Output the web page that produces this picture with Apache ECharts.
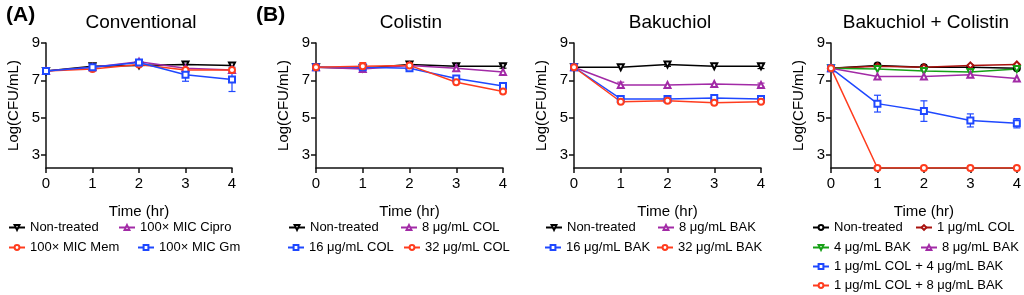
<!DOCTYPE html>
<html>
<head>
<meta charset="utf-8">
<script src="https://cdn.jsdelivr.net/npm/echarts@6/dist/echarts.min.js"></script>
<style>
  html, body { margin: 0; background: #fff; }
  #main { width: 1024px; height: 295px; }
</style>
</head>
<body>
<div id="main"></div>
<script>
var times = [0, 1, 2, 3, 4]
var yTicks = [3, 5, 7, 9]

// (A) Conventional
var convNonTreated = [7.5, 7.75, 7.8, 7.85, 7.8]
var convCipro = [7.5, 7.7, 8.0, 7.65, 7.55]
var convMem = [7.5, 7.6, 7.85, 7.55, 7.55]
var convGm = [7.5, 7.7, 7.95, 7.3, 7.05]
var convGmErr = [0, 0, 0.1, 0.35, 0.65]

// (B) Colistin
var colNonTreated = [7.7, 7.65, 7.85, 7.75, 7.75]
var col8 = [7.7, 7.6, 7.8, 7.65, 7.45]
var col16 = [7.7, 7.7, 7.65, 7.1, 6.7]
var col32 = [7.7, 7.75, 7.8, 6.9, 6.4]
var col32Err = [0, 0.2, 0, 0, 0]
var colNonErr = [0, 0, 0, 0, 0.1]

// Bakuchiol
var bakNonTreated = [7.7, 7.7, 7.85, 7.75, 7.75]
var bak8 = [7.7, 6.75, 6.75, 6.8, 6.75]
var bak16 = [7.7, 6.0, 6.0, 6.05, 6.0]
var bak32 = [7.7, 5.85, 5.9, 5.8, 5.85]
var bakNonErr = [0, 0, 0.1, 0, 0.12]
var bak8Err = [0, 0.15, 0, 0, 0.1]

// Bakuchiol + Colistin
var comboNonTreated = [7.65, 7.8, 7.7, 7.7, 7.65]
var comboCol1 = [7.65, 7.75, 7.7, 7.8, 7.85]
var comboBak4 = [7.65, 7.6, 7.5, 7.45, 7.6]
var comboBak8 = [7.65, 7.2, 7.2, 7.3, 7.1]
var comboCol1Bak4 = [7.65, 5.75, 5.35, 4.85, 4.7]
var comboCol1Bak4Err = [0, 0.45, 0.55, 0.35, 0.25]
var comboCol1Bak8 = [7.65, 2.3, 2.3, 2.3, 2.3]

var BLACK = '#000000'
var RED = '#ff3c1e'
var PURPLE = '#a22aa6'
var BLUE = '#1f48ff'
var GREEN = '#16a016'
var DARKRED = '#a8120e'
var FONT = '"Liberation Sans", Arial, sans-serif'

var grids = [
  { left: 46, right: 792, top: 43, bottom: 127, cx: 136, title: 'Conventional' },
  { left: 316, right: 521, top: 43, bottom: 127, cx: 406, title: 'Colistin' },
  { left: 574, right: 263, top: 43, bottom: 127, cx: 665, title: 'Bakuchiol' },
  { left: 831, right: 6, top: 43, bottom: 127, cx: 921, title: 'Bakuchiol + Colistin' }
]

// [panel, key, label, values, color, symbol, rotate, errors, legendLeft, legendRowY]
var lines = [
  [0, 'a1', 'Non-treated', convNonTreated, BLACK, 'emptyTriangle', 180, null, 8, 229],
  [0, 'a2', '100× MIC Cipro', convCipro, PURPLE, 'emptyTriangle', 0, null, 118, 229],
  [0, 'a3', '100× MIC Mem', convMem, RED, 'emptyCircle', 0, null, 8, 249],
  [0, 'a4', '100× MIC Gm', convGm, BLUE, 'emptyRect', 0, convGmErr, 137, 249],
  [1, 'b1', 'Non-treated', colNonTreated, BLACK, 'emptyTriangle', 180, colNonErr, 288, 229],
  [1, 'b2', '8 μg/mL COL', col8, PURPLE, 'emptyTriangle', 0, null, 400, 229],
  [1, 'b3', '16 μg/mL COL', col16, BLUE, 'emptyRect', 0, null, 287, 249],
  [1, 'b4', '32 μg/mL COL', col32, RED, 'emptyCircle', 0, col32Err, 403, 249],
  [2, 'c1', 'Non-treated', bakNonTreated, BLACK, 'emptyTriangle', 180, bakNonErr, 545, 229],
  [2, 'c2', '8 μg/mL BAK', bak8, PURPLE, 'emptyTriangle', 0, bak8Err, 657, 229],
  [2, 'c3', '16 μg/mL BAK', bak16, BLUE, 'emptyRect', 0, null, 544, 249],
  [2, 'c4', '32 μg/mL BAK', bak32, RED, 'emptyCircle', 0, null, 656, 249],
  [3, 'd1', 'Non-treated', comboNonTreated, BLACK, 'emptyCircle', 0, null, 812, 229],
  [3, 'd2', '1 μg/mL COL', comboCol1, DARKRED, 'emptyDiamond', 0, null, 915, 229],
  [3, 'd3', '4 μg/mL BAK', comboBak4, GREEN, 'emptyTriangle', 180, null, 812, 249],
  [3, 'd4', '8 μg/mL BAK', comboBak8, PURPLE, 'emptyTriangle', 0, null, 920, 249],
  [3, 'd5', '1 μg/mL COL + 4 μg/mL BAK', comboCol1Bak4, BLUE, 'emptyRect', 0, comboCol1Bak4Err, 812, 268],
  [3, 'd6', '1 μg/mL COL + 8 μg/mL BAK', comboCol1Bak8, RED, 'emptyCircle', 0, null, 812, 287]
]

var option = {
  animation: false,
  backgroundColor: '#fff',
  textStyle: { fontFamily: FONT },
  title: [
    { text: '(A)', left: 1, top: 0, textStyle: { fontSize: 21, fontWeight: 'bold', color: '#000', fontFamily: FONT } },
    { text: '(B)', left: 251, top: 0, textStyle: { fontSize: 21, fontWeight: 'bold', color: '#000', fontFamily: FONT } }
  ],
  grid: [],
  xAxis: [],
  yAxis: [],
  legend: [],
  series: []
}

grids.forEach(function (g, i) {
  option.title.push({
    text: g.title, left: g.cx, top: 8, textAlign: 'center',
    textStyle: { fontSize: 19, fontWeight: 'normal', color: '#000', fontFamily: FONT }
  })
  option.grid.push({ left: g.left, right: g.right, top: g.top, bottom: g.bottom })
  option.xAxis.push({
    type: 'value', gridIndex: i, min: 0, max: 4, interval: 1,
    name: 'Time (hr)', nameLocation: 'middle', nameGap: 36,
    nameTextStyle: { fontSize: 15, color: '#000' },
    axisLine: { lineStyle: { color: '#111', width: 1.5 } },
    axisTick: { length: 5, lineStyle: { color: '#111', width: 1.5 } },
    axisLabel: { fontSize: 15, color: '#000', margin: 8 },
    splitLine: { show: false }
  })
  option.yAxis.push({
    type: 'value', gridIndex: i, min: 2.3, max: 9,
    name: 'Log(CFU/mL)', nameLocation: 'middle', nameGap: 25,
    nameTextStyle: { fontSize: 15, color: '#000' },
    axisLine: { show: true, lineStyle: { color: '#111', width: 1.5 } },
    axisTick: { show: true, length: 5, customValues: yTicks, lineStyle: { color: '#111', width: 1.5 } },
    axisLabel: { fontSize: 15, color: '#000', margin: 6, customValues: yTicks },
    splitLine: { show: false }
  })
})

lines.forEach(function (l) {
  var name = l[1] + '|' + l[2]
  option.series.push({
    type: 'line', name: name, xAxisIndex: l[0], yAxisIndex: l[0],
    data: times.map(function (t, j) { return [t, l[3][j]] }),
    symbol: l[5], symbolRotate: l[6], symbolSize: 6,
    color: l[4],
    lineStyle: { width: 1.5, color: l[4] },
    itemStyle: { color: l[4], borderWidth: 1.4 },
    z: 3
  })
  if (l[7]) {
    var errs = l[7]
    option.series.push({
      type: 'custom', xAxisIndex: l[0], yAxisIndex: l[0], z: 2,
      data: times.map(function (t, j) { return [t, l[3][j], errs[j]] }).filter(function (d) { return d[2] > 0 }),
      renderItem: function (params, api) {
        var x = api.value(0), y = api.value(1), e = api.value(2)
        var hi = api.coord([x, y + e])
        var lo = api.coord([x, y - e])
        var w = 3.5
        var st = { stroke: api.visual('color'), lineWidth: 1.2 }
        return {
          type: 'group',
          children: [
            { type: 'line', shape: { x1: hi[0], y1: hi[1], x2: lo[0], y2: lo[1] }, style: st },
            { type: 'line', shape: { x1: hi[0] - w, y1: hi[1], x2: hi[0] + w, y2: hi[1] }, style: st },
            { type: 'line', shape: { x1: lo[0] - w, y1: lo[1], x2: lo[0] + w, y2: lo[1] }, style: st }
          ]
        }
      },
      itemStyle: { color: l[4] },
      silent: true
    })
  }
  option.legend.push({
    data: [name], left: l[8], top: l[9] - 8,
    itemWidth: 16, itemHeight: 6, itemGap: 5, padding: 0,
    formatter: function (n) { return n.split('|')[1] },
    textStyle: { fontSize: 13, color: '#000', fontFamily: FONT },
    selectedMode: false
  })
})

var chart = echarts.init(document.getElementById('main'))
chart.setOption(option)
</script>
</body>
</html>
